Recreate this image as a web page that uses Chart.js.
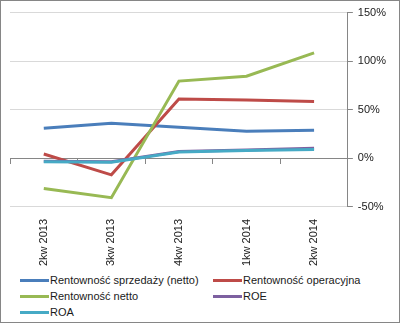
<!DOCTYPE html>
<html>
<head>
<meta charset="utf-8">
<script src="https://cdn.jsdelivr.net/npm/chart.js@4/dist/chart.umd.min.js"></script>
<style>
  html, body { margin: 0; padding: 0; background: #fff; }
  #frame {
    width: 400px; height: 323px; box-sizing: border-box;
    border: 1px solid #868686; position: relative; overflow: hidden;
  }
  #wrap { position: absolute; left: 0; top: 0; width: 398px; height: 272px; }
  #legend {
    position: absolute; left: 19px; top: 272px;
    display: grid; grid-template-columns: 193px 160px; row-gap: 2px;
    font: 11px "Liberation Sans", Arial, sans-serif; color: #1a1a1a;
  }
  .item { display: flex; align-items: center; height: 14px; white-space: nowrap; }
  .swatch { width: 29px; height: 3px; margin-right: 1px; }
</style>
</head>
<body>
<div id="frame">
  <div id="wrap"><canvas id="chart"></canvas></div>
  <div id="legend"></div>
</div>
<script>
const categories = ['2kw 2013', '3kw 2013', '4kw 2013', '1kw 2014', '2kw 2014'];
const seriesNames = ['Rentowność sprzedaży (netto)', 'Rentowność operacyjna', 'Rentowność netto', 'ROE', 'ROA'];
const sprzedazy = [31, 36, 32, 28, 29];
const operacyjna = [4.5, -17, 61, 60, 58.5];
const netto = [-31, -40.5, 79.5, 84.5, 108.5];
const roe = [-3, -3.5, 7, 8.5, 10.5];
const roa = [-3.5, -4, 6.5, 8, 9];
const colors = ['#4A7EBB', '#BE4B48', '#98B954', '#7D60A0', '#46AAC5'];
const yTicks = [-50, 0, 50, 100, 150];

const values = [sprzedazy, operacyjna, netto, roe, roa];
const font = { family: '"Liberation Sans", Arial, sans-serif', size: 11 };

const datasets = values.map((v, i) => ({
  label: seriesNames[i],
  data: v,
  borderColor: colors[i],
  backgroundColor: colors[i],
  borderWidth: 3,
  pointRadius: 0,
  tension: 0,
  order: values.length - i
}));

const chart = new Chart(document.getElementById('chart').getContext('2d'), {
  type: 'line',
  data: { labels: categories, datasets: datasets },
  options: {
    responsive: true,
    maintainAspectRatio: false,
    animation: false,
    layout: { padding: { left: 9, right: 8, top: 10, bottom: 3 } },
    plugins: { legend: { display: false }, tooltip: { enabled: false } },
    scales: {
      x: {
        type: 'category',
        position: 'bottom',
        offset: true,
        grid: { display: false },
        border: { display: false },
        ticks: { minRotation: 90, maxRotation: 90, padding: 4, color: '#1a1a1a', font: font }
      },
      x0: {
        type: 'category',
        axis: 'x',
        labels: categories,
        position: { y: 0 },
        offset: true,
        grid: { drawOnChartArea: false, offset: true, tickLength: 5, color: '#868686' },
        border: { color: '#868686' },
        ticks: { display: false }
      },
      y: {
        position: 'right',
        min: yTicks[0],
        max: yTicks[yTicks.length - 1],
        afterBuildTicks: s => { s.ticks = yTicks.map(v => ({ value: v })); },
        grid: { color: '#d9d9d9', tickColor: '#868686', tickLength: 5 },
        border: { color: '#868686' },
        ticks: { padding: 5, color: '#1a1a1a', font: font, callback: v => v + '%' }
      }
    }
  }
});

const legend = document.getElementById('legend');
chart.data.datasets.forEach(ds => {
  const item = document.createElement('div');
  item.className = 'item';
  const sw = document.createElement('span');
  sw.className = 'swatch';
  sw.style.background = ds.borderColor;
  const txt = document.createElement('span');
  txt.textContent = ds.label;
  item.appendChild(sw);
  item.appendChild(txt);
  legend.appendChild(item);
});
</script>
</body>
</html>
